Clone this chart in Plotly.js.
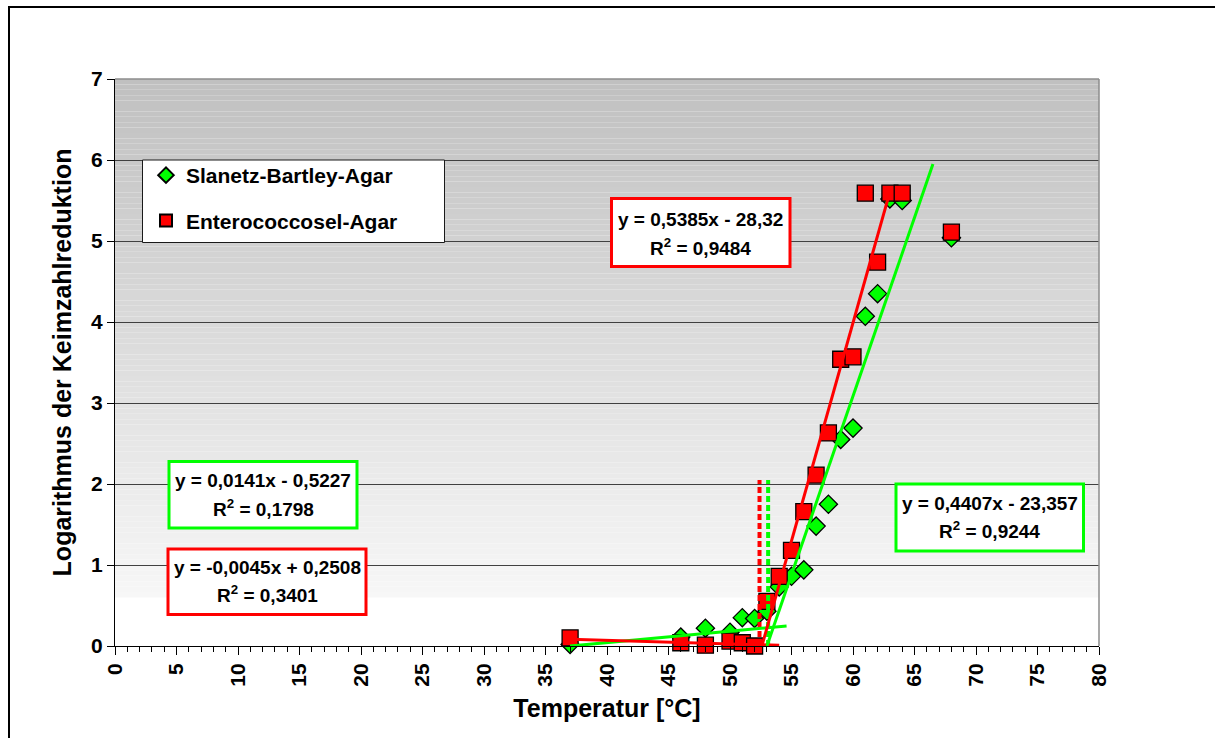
<!DOCTYPE html>
<html>
<head>
<meta charset="utf-8">
<script src="https://cdn.plot.ly/plotly-3.0.1.min.js"></script>
<style>
  html, body { margin: 0; padding: 0; background: #ffffff; overflow: hidden; }
  #chart { position: absolute; left: 0; top: 0; width: 1215px; height: 738px; }
  #frame { position: absolute; left: 8px; top: 6px; width: 1400px; height: 900px;
           border: 2px solid #000000; pointer-events: none; }
</style>
</head>
<body>
<div id="chart"></div>
<div id="frame"></div>
<script>
// Heat inactivation of enterococci: log reduction per temperature on two agars
const temperatures = [37, 46, 48, 50, 51, 52, 53, 54, 55, 56, 57, 58, 59, 60, 61, 62, 63, 64, 68];
const slanetzLog   = [0.02, 0.11, 0.22, 0.17, 0.35, 0.34, 0.43, 0.73, 0.86, 0.94, 1.48, 1.75, 2.55, 2.69, 4.07, 4.35, 5.52, 5.50, 5.04];
const enteroLog    = [0.10, 0.04, 0.01, 0.06, 0.04, 0.00, 0.55, 0.86, 1.18, 1.66, 2.11, 2.63, 3.54, 3.57, 5.59, 4.74, 5.59, 5.59, 5.11];

const seriesNames = ['Slanetz-Bartley-Agar', 'Enterococcosel-Agar'];

// Linear fits: lower plateau and steep part for each medium
const fitSeries     = [0, 1, 0, 1];
const fitSlopes     = [0.0141, -0.0045, 0.4407, 0.5385];
const fitIntercepts = [-0.5227, 0.2508, -23.357, -28.32];
const fitR2         = [0.1798, 0.3401, 0.9244, 0.9484];
const fitFrom       = [37, 37, 53.0, 52.6];
const fitTo         = [54.6, 54, 66.5, 63];

// Critical temperatures marked by dashed verticals
const criticalTemps  = [53.1, 52.4];
const criticalSeries = [0, 1];
const criticalTop    = [2.05, 2.05];

const colors = ['#00ff00', '#ff0000'];
const FONT = 'Liberation Sans, Arial, Helvetica, sans-serif';

// pixel -> paper helpers for the plot frame (left 115, top 79, 984 x 567)
const PL = 115, PT = 79, PW = 984, PH = 567;
const px = v => (v - PL) / PW;
const py = v => (PT + PH - v) / PH;

const fmt = v => String(Math.abs(v)).replace('.', ',');
function equation(i) {
  const s = fitSlopes[i], b = fitIntercepts[i];
  return 'y = ' + (s < 0 ? '-' : '') + fmt(s) + 'x ' + (b < 0 ? '- ' : '+ ') + fmt(b);
}

const traces = [];
// scatter points
[slanetzLog, enteroLog].forEach((vals, k) => {
  traces.push({
    type: 'scatter', mode: 'markers', name: seriesNames[k],
    x: temperatures, y: vals, legendgroup: 'g' + k,
    marker: {
      symbol: k === 0 ? 'diamond' : 'square',
      size: k === 0 ? 14 : 16,
      color: colors[k],
      line: { color: '#000000', width: 1.3 }
    },
    cliponaxis: false
  });
});
// dashed critical temperature markers
criticalTemps.forEach((t, i) => {
  traces.push({
    type: 'scatter', mode: 'lines', showlegend: false,
    x: [t, t], y: [0, criticalTop[i]],
    line: { color: colors[criticalSeries[i]], width: 4, dash: '6px,3px' }
  });
});
// regression lines
fitSlopes.forEach((s, i) => {
  const xs = [fitFrom[i], fitTo[i]];
  traces.push({
    type: 'scatter', mode: 'lines', showlegend: false,
    x: xs, y: xs.map(x => s * x + fitIntercepts[i]),
    line: { color: colors[fitSeries[i]], width: 3 },
    cliponaxis: false
  });
});

// vertical grey-to-white gradient of the plot area
const shapes = [];
const gTop = 7, gBottom = 0.6, nBands = 96;
for (let k = 0; k < nBands; k++) {
  const y0 = gBottom + (gTop - gBottom) * k / nBands;
  const y1 = gBottom + (gTop - gBottom) * (k + 1) / nBands;
  const f = (k + 0.5) / nBands;
  const c = Math.round(247 - (247 - 192) * f);
  shapes.push({
    type: 'rect', layer: 'below', xref: 'paper', yref: 'y',
    x0: 0, x1: 1, y0: y0, y1: y1,
    fillcolor: `rgb(${c},${c},${c})`, line: { width: 0 }
  });
}
// top and right edge of the plot area
shapes.push({ type: 'line', xref: 'paper', yref: 'paper', x0: 0, x1: 1, y0: 1, y1: 1,
              line: { color: '#8c8c8c', width: 1.5 }, layer: 'above' });
shapes.push({ type: 'line', xref: 'paper', yref: 'paper', x0: 1, x1: 1, y0: 0, y1: 1,
              line: { color: '#8c8c8c', width: 1.5 }, layer: 'above' });
// legend box
shapes.push({ type: 'rect', xref: 'paper', yref: 'paper', layer: 'above',
              x0: px(142.5), x1: px(444.5), y0: py(242.5), y1: py(160),
              fillcolor: '#ffffff', line: { color: '#1a1a1a', width: 1 } });

// regression label boxes: [left, right, top, bottom, line1 centre, line2 centre]
const boxGeom = [
  [169, 357, 461.5, 528, 480.5, 508],
  [168, 366, 549, 614.5, 567.5, 594],
  [896, 1083.5, 484, 551, 503.5, 530],
  [611.5, 790, 198.5, 266.5, 219, 247]
];
const annotations = [];
boxGeom.forEach((g, i) => {
  const col = colors[fitSeries[i]];
  shapes.push({ type: 'rect', xref: 'paper', yref: 'paper', layer: 'above',
                x0: px(g[0]), x1: px(g[1]), y0: py(g[3]), y1: py(g[2]),
                fillcolor: '#ffffff', line: { color: col, width: 3 } });
  const cx = px((g[0] + g[1]) / 2);
  annotations.push({ xref: 'paper', yref: 'paper', x: cx, y: py(g[4]),
                     xanchor: 'center', yanchor: 'middle', showarrow: false,
                     text: equation(i), font: { family: FONT, size: 19, color: '#000', weight: 'bold' } });
  annotations.push({ xref: 'paper', yref: 'paper', x: cx, y: py(g[5]),
                     xanchor: 'center', yanchor: 'middle', showarrow: false,
                     text: 'R<sup>2</sup> = ' + fmt(fitR2[i]),
                     font: { family: FONT, size: 19, color: '#000', weight: 'bold' } });
});

const layout = {
  width: 1215, height: 738,
  margin: { l: PL, r: 1215 - PL - PW, t: PT, b: 738 - PT - PH, pad: 0 },
  paper_bgcolor: '#ffffff', plot_bgcolor: '#ffffff',
  font: { family: FONT, color: '#000000' },
  showlegend: true,
  legend: {
    x: px(146), y: py(155), xanchor: 'left', yanchor: 'top',
    bgcolor: 'rgba(0,0,0,0)', borderwidth: 0,
    font: { family: FONT, size: 21, color: '#000', weight: 'bold' },
    itemsizing: 'constant', tracegroupgap: 15
  },
  xaxis: {
    range: [0, 80], tick0: 0, dtick: 5, ticks: 'outside', ticklen: 8, tickwidth: 1, tickcolor: '#000',
    showline: true, linecolor: '#000', linewidth: 1, showgrid: false, zeroline: false,
    tickangle: -90, tickfont: { family: FONT, size: 21, weight: 'bold' },
    minor: { dtick: 1, ticks: 'outside', ticklen: 5, tickwidth: 1, tickcolor: '#000', showgrid: false },
    title: { text: 'Temperatur [°C]', font: { family: FONT, size: 25, weight: 'bold' }, standoff: 13 },
    fixedrange: true
  },
  yaxis: {
    range: [0, 7], tick0: 0, dtick: 1, ticks: 'outside', ticklen: 7, tickwidth: 1, tickcolor: '#000',
    showline: true, linecolor: '#000', linewidth: 1,
    showgrid: true, gridcolor: '#404040', gridwidth: 1, zeroline: false,
    tickfont: { family: FONT, size: 21, weight: 'bold' },
    title: { text: 'Logarithmus der Keimzahlreduktion', font: { family: FONT, size: 25, weight: 'bold' }, standoff: 12 },
    fixedrange: true
  },
  shapes: shapes,
  annotations: annotations
};

Plotly.newPlot('chart', traces, layout, { staticPlot: true, displayModeBar: false });
</script>
</body>
</html>
